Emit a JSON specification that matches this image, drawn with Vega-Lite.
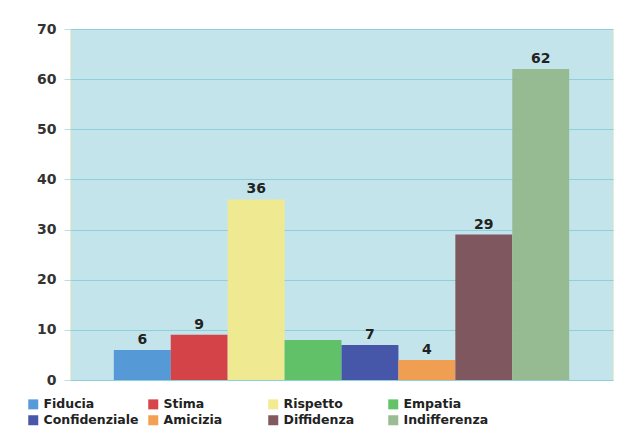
{
  "$schema": "https://vega.github.io/schema/vega-lite/v6.json",
  "autosize": "none",
  "width": 543,
  "height": 351,
  "padding": {"left": 70, "top": 29, "right": 15, "bottom": 57},
  "background": "white",
  "config": {
    "view": {"fill": "#c2e4ea", "stroke": "#e6efc8", "strokeWidth": 1},
    "font": "DejaVu Sans"
  },
  "data": {
    "values": [
      {"categoria": "Fiducia", "valore": 6, "etichetta": "6"},
      {"categoria": "Stima", "valore": 9, "etichetta": "9"},
      {"categoria": "Rispetto", "valore": 36, "etichetta": "36"},
      {"categoria": "Empatia", "valore": 8, "etichetta": ""},
      {"categoria": "Confidenziale", "valore": 7, "etichetta": "7"},
      {"categoria": "Amicizia", "valore": 4, "etichetta": "4"},
      {"categoria": "Diffidenza", "valore": 29, "etichetta": "29"},
      {"categoria": "Indifferenza", "valore": 62, "etichetta": "62"}
    ]
  },
  "encoding": {
    "x": {
      "field": "categoria", "type": "nominal", "sort": null,
      "scale": {"paddingInner": 0, "paddingOuter": 0.77},
      "axis": null
    },
    "y": {
      "field": "valore", "type": "quantitative",
      "scale": {"domain": [0, 70]},
      "axis": {
        "title": null, "values": [0, 10, 20, 30, 40, 50, 60, 70],
        "labelFont": "DejaVu Sans", "labelFontWeight": "bold", "labelFontSize": 14,
        "labelColor": "#333333", "labelPadding": 8,
        "tickSize": 6, "tickColor": "#b9dfe6", "domain": false,
        "gridColor": "#8fcfdc", "gridWidth": 1
      }
    }
  },
  "layer": [
    {
      "mark": {"type": "bar", "opacity": 0.95},
      "encoding": {
        "color": {
          "field": "categoria", "type": "nominal", "sort": null,
          "scale": {
            "domain": ["Fiducia", "Stima", "Rispetto", "Empatia", "Confidenziale", "Amicizia", "Diffidenza", "Indifferenza"],
            "range": ["#4f95d6", "#d53a3f", "#f1ea8c", "#5cbf61", "#3f4ea4", "#f29b4a", "#7a5056", "#93b88d"]
          },
          "legend": {
            "title": null, "orient": "none", "legendX": -43, "legendY": 369,
            "columns": 4, "gridAlign": "all", "columnPadding": 8, "rowPadding": 3,
            "symbolType": "square", "symbolSize": 100, "symbolStrokeWidth": 0,
            "labelFont": "DejaVu Sans", "labelFontWeight": "bold", "labelFontSize": 12.5,
            "labelColor": "#222222", "labelOffset": 4,
            "direction": "horizontal"
          }
        }
      }
    },
    {
      "mark": {"type": "text", "baseline": "bottom", "dy": -3, "font": "DejaVu Sans", "fontWeight": "bold", "fontSize": 14, "color": "#222222"},
      "encoding": {"text": {"field": "etichetta"}}
    }
  ]
}
